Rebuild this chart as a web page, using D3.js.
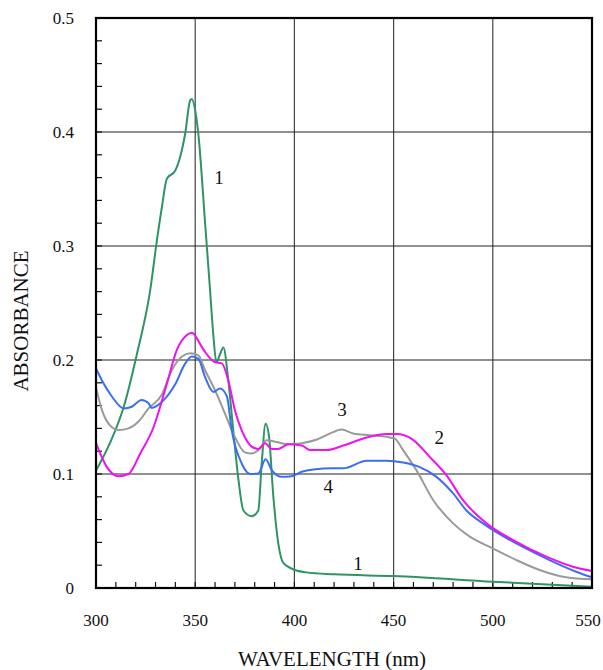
<!DOCTYPE html>
<html>
<head>
<meta charset="utf-8">
<script src="https://cdn.jsdelivr.net/npm/d3@7"></script>
<style>
  body { margin: 0; background: #fff; }
  svg text { font-family: "Liberation Serif", "DejaVu Serif", serif; fill: #111; }
</style>
</head>
<body>
<div id="my_dataviz"></div>
<script>
//Data
var wl1 = [300, 307, 314, 320.6, 327.3, 330.7, 333.2, 335.7, 339.9, 342.4, 344.9, 347.5, 348.3, 350, 351.6, 355, 357.5, 359, 360.7, 362.5, 364.2, 366.7, 369.2, 371.8, 374.3, 378.5, 381.8, 383.5, 385.5, 387.2, 389.4, 391.9, 394.4, 400, 406, 420, 450, 500, 550];
var abs1 = [0.103, 0.127, 0.159, 0.205, 0.261, 0.305, 0.334, 0.359, 0.366, 0.378, 0.398, 0.428, 0.429, 0.419, 0.398, 0.32, 0.261, 0.225, 0.198, 0.205, 0.211, 0.182, 0.138, 0.095, 0.068, 0.063, 0.068, 0.109, 0.144, 0.133, 0.080, 0.039, 0.022, 0.016, 0.0137, 0.012, 0.0105, 0.0055, 0.001];

var wl2 = [300, 305.5, 311.4, 316.4, 322.3, 329, 335.7, 340.8, 345.8, 348.3, 353.3, 355, 360, 363.4, 366.7, 370, 373.5, 378.5, 381.8, 385.2, 388.6, 391.9, 397, 403.7, 407.8, 416.3, 424.6, 436.4, 446.5, 451.5, 459.8, 468.2, 476.6, 485, 496.8, 510.2, 527, 540.4, 550];
var abs2 = [0.127, 0.106, 0.098, 0.100, 0.118, 0.141, 0.179, 0.209, 0.222, 0.224, 0.2115, 0.207, 0.198, 0.197, 0.182, 0.156, 0.138, 0.124, 0.122, 0.127, 0.122, 0.122, 0.126, 0.125, 0.121, 0.121, 0.125, 0.132, 0.135, 0.135, 0.130, 0.115, 0.099, 0.077, 0.0567, 0.042, 0.0275, 0.0187, 0.0149];

var wl3 = [300, 303, 308, 311.4, 316.4, 321.4, 326.5, 333, 338.2, 343.3, 347.5, 351.6, 355, 360, 365, 370, 375, 378.5, 382.7, 386, 391, 397, 403.7, 411, 418, 423.8, 429.6, 438, 446.5, 450.6, 454.8, 461.5, 470, 480, 488.4, 500, 511.9, 523.6, 537, 550];
var abs3 = [0.176, 0.156, 0.141, 0.1385, 0.140, 0.146, 0.1575, 0.169, 0.191, 0.203, 0.206, 0.204, 0.191, 0.1735, 0.153, 0.1326, 0.119, 0.118, 0.1224, 0.1297, 0.128, 0.126, 0.127, 0.130, 0.1356, 0.139, 0.1356, 0.134, 0.1326, 0.131, 0.121, 0.1034, 0.077, 0.0567, 0.045, 0.0348, 0.0245, 0.0158, 0.0094, 0.0076];

var wl4 = [300, 303, 308, 314, 318, 323, 326.5, 328, 333, 340, 345, 348.3, 351.6, 355, 359.2, 362.5, 366, 368.4, 373.5, 377.7, 381.8, 385.5, 388.6, 393.6, 398.6, 403.7, 409.5, 419.6, 424.6, 436.4, 446.5, 454.8, 463.2, 471.6, 480, 486.7, 495, 501.8, 515.2, 528.6, 542, 550];
var abs4 = [0.1925, 0.182, 0.168, 0.1575, 0.159, 0.165, 0.162, 0.158, 0.163, 0.179, 0.197, 0.203, 0.201, 0.185, 0.172, 0.175, 0.168, 0.1385, 0.109, 0.100, 0.1005, 0.113, 0.1034, 0.0975, 0.098, 0.102, 0.104, 0.105, 0.105, 0.1116, 0.1116, 0.110, 0.106, 0.0975, 0.083, 0.068, 0.0567, 0.049, 0.036, 0.0245, 0.0143, 0.0094];

var xTicks = [300, 350, 400, 450, 500, 550];
var yTicks = [0, 0.1, 0.2, 0.3, 0.4, 0.5];

//Curve labels: [text, wavelength, absorbance]
var curveLabels = [["1", 362, 0.360], ["1", 432, 0.022], ["2", 473, 0.132], ["3", 424, 0.157], ["4", 417, 0.089]];

var series = [
  {wl: wl1, abs: abs1, color: "#2e9466"},
  {wl: wl3, abs: abs3, color: "#9a9a9a"},
  {wl: wl4, abs: abs4, color: "#3b6ef0"},
  {wl: wl2, abs: abs2, color: "#f010f0"}
];

var fontname = '"Liberation Serif", "DejaVu Serif", serif';

//Size
var outerWidth = 603, outerHeight = 670;
var margin = {top: 18, right: 11, bottom: 82, left: 96};
var width = outerWidth - margin.left - margin.right,
    height = outerHeight - margin.top - margin.bottom;

var svg = d3.select("#my_dataviz").append("svg")
  .attr("width", outerWidth)
  .attr("height", outerHeight);

var inner = svg.append("g")
  .attr("transform", "translate(" + margin.left + "," + margin.top + ")");

var x = d3.scaleLinear().domain([300, 550]).range([0, width]);
var y = d3.scaleLinear().domain([0, 0.5]).range([height, 0]);

//Grid
inner.append("g").selectAll("line")
  .data(xTicks.slice(1, -1))
  .enter().append("line")
  .attr("x1", function(d) { return x(d); })
  .attr("x2", function(d) { return x(d); })
  .attr("y1", 0).attr("y2", height)
  .style("stroke", "#444").style("stroke-width", 1.2);

inner.append("g").selectAll("line")
  .data(yTicks.slice(1, -1))
  .enter().append("line")
  .attr("y1", function(d) { return y(d); })
  .attr("y2", function(d) { return y(d); })
  .attr("x1", 0).attr("x2", width)
  .style("stroke", "#222").style("stroke-width", 1.2);

//Minor ticks pointing inward
inner.append("g").selectAll("line")
  .data(d3.range(310, 550, 10))
  .enter().append("line")
  .attr("x1", function(d) { return x(d); })
  .attr("x2", function(d) { return x(d); })
  .attr("y1", height).attr("y2", height - 6)
  .style("stroke", "#111").style("stroke-width", 1.2);

inner.append("g").selectAll("line")
  .data(d3.range(1, 25).map(function(i) { return i * 0.02; }))
  .enter().append("line")
  .attr("y1", function(d) { return y(d); })
  .attr("y2", function(d) { return y(d); })
  .attr("x1", 0).attr("x2", 6)
  .style("stroke", "#111").style("stroke-width", 1.2);

//Curves
var line = d3.line()
  .x(function(d) { return x(d[0]); })
  .y(function(d) { return y(d[1]); })
  .curve(d3.curveMonotoneX);

inner.append("g").selectAll("path")
  .data(series)
  .enter().append("path")
  .attr("d", function(s) { return line(d3.zip(s.wl, s.abs)); })
  .style("fill", "none")
  .style("stroke", function(s) { return s.color; })
  .style("stroke-width", 2);

//Frame
inner.append("rect")
  .attr("width", width).attr("height", height)
  .style("fill", "none").style("stroke", "#000").style("stroke-width", 2.2);

//Tick labels (last one nudged so it stays on the page)
inner.append("g").selectAll("text")
  .data(xTicks)
  .enter().append("text")
  .attr("x", function(d, i) { return x(d) - (i == xTicks.length - 1 ? 4 : 0); })
  .attr("y", height + 38)
  .attr("text-anchor", "middle")
  .attr("font-family", fontname)
  .style("font-size", "17px")
  .text(function(d) { return d; });

inner.append("g").selectAll("text")
  .data(yTicks)
  .enter().append("text")
  .attr("x", -22)
  .attr("y", function(d) { return y(d); })
  .attr("dy", "0.35em")
  .attr("text-anchor", "end")
  .attr("font-family", fontname)
  .style("font-size", "17px")
  .text(function(d) { return d; });

//Curve numbers
inner.append("g").selectAll("text")
  .data(curveLabels)
  .enter().append("text")
  .attr("x", function(d) { return x(d[1]); })
  .attr("y", function(d) { return y(d[2]); })
  .attr("dy", "0.35em")
  .attr("text-anchor", "middle")
  .attr("font-family", fontname)
  .style("font-size", "19px")
  .text(function(d) { return d[0]; });

//Axis titles
svg.append("text")
  .attr("x", 332).attr("y", 666)
  .attr("text-anchor", "middle")
  .attr("font-family", fontname)
  .style("font-size", "21px")
  .text("WAVELENGTH (nm)");

svg.append("text")
  .attr("transform", "translate(28,321) rotate(-90)")
  .attr("text-anchor", "middle")
  .attr("font-family", fontname)
  .style("font-size", "21px")
  .text("ABSORBANCE");
</script>
</body>
</html>
